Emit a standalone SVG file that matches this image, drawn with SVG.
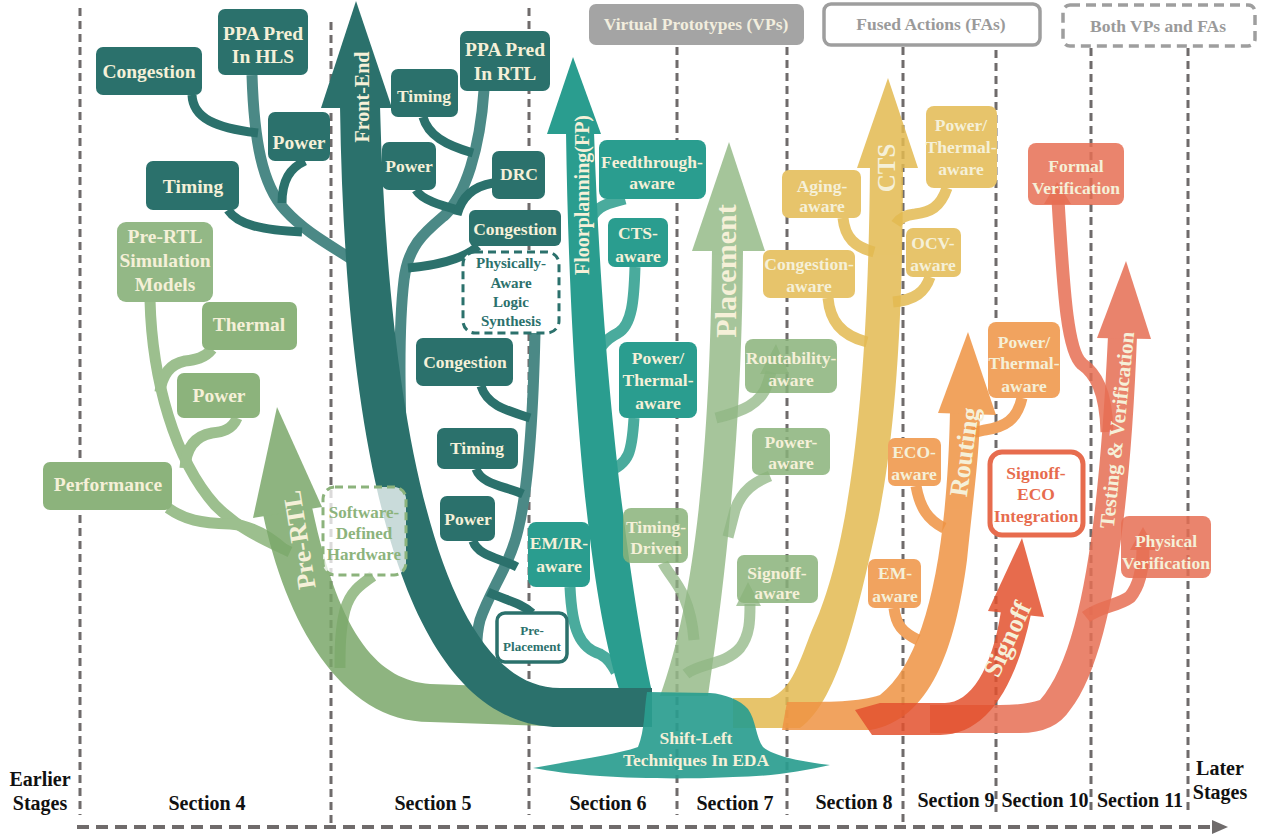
<svg xmlns="http://www.w3.org/2000/svg" width="1265" height="834" viewBox="0 0 1265 834">
<style>
text{font-family:"Liberation Serif","Times New Roman",serif;font-weight:bold;text-anchor:middle}
.c{fill:#f5f0d8}
.f19{font-size:19.5px}
.f17{font-size:17.5px}
.dk{fill:#2b716c}
.tl{fill:#2a9d8f}
.gr{fill:#8cb37c}
.pb{fill:#89b37a;fill-opacity:.85}
.ye{fill:#e7c46b}
.or{fill:#f1a35f}
.sa{fill:#e66e53;fill-opacity:.85}
.tr{opacity:.85}
.br{fill:none}
.bdk{stroke:#2b716c;stroke-width:9}
.bst{stroke:#4b8986;stroke-width:11}
.btl{stroke:#4aab9d;stroke-width:11}
.bgr{stroke:#9cbf8e;stroke-width:11}
.bpl{stroke:#8fb583;stroke-width:11;opacity:.75}
.bye{stroke:#e7c46b;stroke-width:11}
.bor{stroke:#f1a35f;stroke-width:11}
.bsa{stroke:#e66e53;stroke-width:13;opacity:.85}
.grid{fill:none;stroke:#6f6b6b;stroke-width:3;stroke-dasharray:8 5}
.sec{font-size:20px;fill:#111}
</style>
<rect width="1265" height="834" fill="#fff"/>

<g id="headers">
<g id="hdr-vp"><rect x="589" y="4" width="215" height="41" rx="7" fill="#a4a4a4"/><text x="696" y="30" font-size="17.5" fill="#f2eede">Virtual Prototypes (VPs)</text></g>
<g id="hdr-fa"><rect x="824" y="4" width="216" height="41" rx="7" fill="#fff" stroke="#9e9e9e" stroke-width="3.5"/><text x="931" y="30" font-size="17.5" fill="#9a9a9a">Fused Actions (FAs)</text></g>
<g id="hdr-both"><rect x="1063" y="5" width="192" height="41" rx="7" fill="#fff" stroke="#9e9e9e" stroke-width="3.5" stroke-dasharray="10 6"/><text x="1158" y="32" font-size="17.5" fill="#9a9a9a">Both VPs and FAs</text></g>
</g>

<g id="grid">
<path class="grid" d="M80,8 V815 M331,22 V826 M529,8 V815 M677,47 V815 M787,47 V815 M903,47 V822 M996,50 V815 M1091,48 V815 M1188,48 V815"/>
<path d="M77,827 H1212" fill="none" stroke="#6f6b6b" stroke-width="4" stroke-dasharray="12 7"/>
<polygon points="1212,820 1228,827 1212,834" fill="#6f6b6b"/>
</g>

<g id="connectors">
<!-- left dark cluster -->
<path class="br bst" d="M252,75 C254,140 262,185 285,210 C305,232 330,245 356,262"/>
<path class="br bdk" d="M192,95 C193,118 215,128 258,133"/>
<path class="br bdk" d="M305,161 C290,168 282,180 282,203"/>
<path class="br bdk" d="M228,210 C238,225 262,230 302,232"/>
<!-- section 5 -->
<path class="br bst" d="M484,90 C480,150 465,195 445,215 C425,232 408,245 404,280 C398,330 400,400 402,470"/>
<path class="br bdk" d="M423,117 C428,135 445,145 473,153"/>
<path class="br bdk" d="M416,190 C422,200 440,205 458,210"/>
<path class="br bdk" d="M493,183 C475,186 462,195 457,215"/>
<path class="br bdk" d="M478,246 C465,258 440,265 408,268"/>
<path class="br bst" d="M535,333 C533,420 528,490 518,530 C510,565 490,590 480,620 C476,635 476,650 478,668"/>
<path class="br bdk" d="M481,386 C487,405 505,410 530,418"/>
<path class="br bdk" d="M476,469 C482,485 505,486 523,494"/>
<path class="br bdk" d="M473,541 C478,556 500,558 517,567"/>
<path class="br bdk" stroke-width="8" d="M532,613 C522,603 505,600 488,592"/>
<!-- green cluster -->
<path class="br bgr" d="M150,300 C152,380 175,460 215,505 C240,530 265,540 290,552"/>
<path class="br bgr" d="M168,508 C185,520 200,523 230,524 C250,525 268,535 285,550"/>
<path class="br bgr" stroke="#8cb37c" d="M212,349 C205,358 195,360 185,361 C170,364 162,375 160,392"/>
<path class="br bgr" stroke="#8cb37c" d="M237,418 C232,430 222,432 212,433 C195,436 186,448 185,468"/>
<path class="br bgr" d="M373,576 C360,585 350,592 345,610 C340,630 340,650 340,668"/>
<!-- floorplanning -->
<path class="br btl" d="M625,199 C610,203 592,205 588,228"/>
<path class="br btl" d="M635,267 C634,300 632,325 618,333 C604,340 597,350 596,362"/>
<path class="br btl" d="M634,418 C632,450 630,465 606,472"/>
<path class="br btl" d="M570,587 C572,630 580,648 600,654 C608,658 612,665 616,672"/>
<!-- CTS -->
<path class="br bye" d="M843,218 C845,238 855,247 874,252"/>
<path class="br bye" d="M828,298 C830,320 840,335 867,342"/>
<path class="br bye" d="M947,188 C940,208 930,212 915,214 C905,215 900,218 896,224"/>
<path class="br bye" d="M930,277 C925,292 915,300 893,302"/>
<!-- routing -->
<path class="br bor" d="M1022,398 C1017,420 1005,427 985,430 L972,433"/>
<path class="br bor" d="M916,486 C920,508 928,520 944,528"/>
<path class="br bor" d="M894,608 C896,625 902,632 918,640"/>
</g>

<g id="trunk-pre-rtl" class="tr" fill="#7ba86a">
<path d="M263,514 C285,620 340,722 430,722 L548,726 L548,688 L430,684 C380,680 340,640 312,507 Z"/>
<polygon points="277,407 322,507 253,518"/>
</g>
<g id="trunk-floorplanning" fill="#2a9d8f">
<path d="M566,132 C570,400 590,600 620,692 L652,692 C632,600 603,400 594,132 Z"/>
<polygon points="573,57 601,134 547,134"/>
</g>
<g id="trunk-front-end" fill="#2b716c">
<path d="M340,106 C345,450 400,727 560,727 L652,727 L652,688 L560,688 C440,688 388,420 380,106 Z"/>
<polygon points="356,1 392,108 321,108"/>
</g>
<g id="trunk-placement" class="tr" fill="#96bb89">
<path d="M712,248 C710,450 695,600 660,696 L708,696 C722,600 742,450 743,248 Z"/>
<polygon points="729,142 765,251 692,251"/>
</g>
<g id="placement-branches">
<path class="br bpl" d="M716,418 C740,412 762,405 768,382 L771,372"/>
<polygon fill="#8fb583" opacity=".75" points="776,344 789,374 760,374"/>
<path class="br bpl" d="M770,476 C755,482 742,490 735,510 L728,537"/>
<path class="br bpl" d="M663,563 C670,578 690,590 694,640"/>
<path class="br bpl" d="M686,674 C700,663 725,665 740,648 C750,635 750,620 750,604"/>
<polygon fill="#8fb583" opacity=".75" points="748,582 761,606 736,606"/>
</g>
<g id="trunk-cts" class="tr" fill="#e3ba51">
<path d="M870,165 C868,420 845,560 812,630 C800,660 792,690 770,698 L733,698 L733,728 L800,728 C840,700 860,600 878,520 C892,450 903,350 903,165 Z"/>
<polygon points="888,78 918,168 857,168"/>
</g>
<g id="trunk-routing" class="tr" fill="#ef9343">
<path d="M950,411 C947,560 925,660 880,695 C860,702 830,702 787,702 L782,730 L870,730 C930,720 955,650 967,560 C973,500 980,450 980,411 Z"/>
<polygon points="968,332 996,415 938,413"/>
</g>
<g id="trunk-testing" class="tr" fill="#e66e53">
<path d="M930,705 L1000,705 Q1025,705 1040,700 C1085,650 1100,500 1108,336 L1137,336 C1130,520 1110,660 1070,710 Q1055,733 1020,733 L930,733 Z"/>
<polygon points="1126,261 1151,339 1097,338"/>
</g>
<g id="testing-branches">
<path class="br bsa" d="M1107,432 C1106,390 1095,373 1082,364 C1068,352 1064,300 1058,200"/>
<polygon fill="#e66e53" opacity=".85" points="1057,182 1071,204 1044,204"/>
<path class="br bsa" d="M1086,617 C1100,606 1118,606 1130,597 C1140,585 1143,565 1143,548"/>
<polygon fill="#e66e53" opacity=".85" points="1143,527 1156,550 1130,550"/>
</g>
<g id="trunk-signoff" class="tr" fill="#e3522f">
<path d="M880,703 L945,703 C970,703 992,670 1001,611 L1031,614 C1015,690 985,735 940,735 L872,735 L855,710 Z"/>
<polygon points="1022,538 1044,617 988,611"/>
</g>

<g id="base">
<path fill="#2a9d8f" fill-opacity=".92" d="M647,692 L710,693 C725,694 740,700 748,709 C756,720 756,738 763,747 C775,757 805,762 830,765 C800,772 765,777 733,777 C700,779 640,779 600,776 C570,774 550,771 533,768 C575,760 615,755 638,747 C645,730 644,710 647,692 Z"/>
<text class="c f17" x="696" y="744">Shift-Left</text>
<text class="c f17" x="696" y="766">Techniques In EDA</text>
</g>

<g id="trunk-labels" class="c">
<text transform="translate(362,97) rotate(-90)" y="7" font-size="20">Front-End</text>
<text transform="translate(299,540) rotate(-99)" y="9" font-size="26">Pre-RTL</text>
<text transform="translate(582,195) rotate(-90)" y="7" font-size="20">Floorplanning(FP)</text>
<text transform="translate(726,271) rotate(-90)" y="10" font-size="30">Placement</text>
<text transform="translate(887,168) rotate(-90)" y="8" font-size="25">CTS</text>
<text transform="translate(964,452) rotate(-82)" y="9" font-size="26">Routing</text>
<text transform="translate(1007,639) rotate(-65)" y="9" font-size="26">Signoff</text>
<text transform="translate(1117,430) rotate(-84)" y="7" font-size="21">Testing &amp; Verification</text>
</g>

<g id="n-congestion-hls"><rect class="dk" x="96" y="47" width="106" height="48" rx="7"/><text class="c f19" x="149" y="78">Congestion</text></g>
<g id="n-ppa-hls"><rect class="dk" x="218" y="9" width="90" height="66" rx="7"/><text class="c f19"><tspan x="263" y="39.5">PPA Pred</tspan><tspan x="263" y="63">In HLS</tspan></text></g>
<g id="n-power-hls"><rect class="dk" x="268" y="112" width="62" height="49" rx="7"/><text class="c f19" x="299" y="149">Power</text></g>
<g id="n-timing-hls"><rect class="dk" x="146" y="161" width="93" height="49" rx="7"/><text class="c f19" x="193" y="193">Timing</text></g>

<g id="n-timing-rtl"><rect class="dk" x="391" y="69" width="67" height="48" rx="7"/><text class="c f17" x="424" y="102">Timing</text></g>
<g id="n-ppa-rtl"><rect class="dk" x="460" y="31" width="90" height="60" rx="7"/><text class="c f19"><tspan x="505" y="56">PPA Pred</tspan><tspan x="505" y="80">In RTL</tspan></text></g>
<g id="n-power-rtl"><rect class="dk" x="382" y="142" width="54" height="48" rx="7"/><text class="c f17" x="409" y="172">Power</text></g>
<g id="n-drc"><rect class="dk" x="492" y="151" width="53" height="48" rx="7"/><text class="c f17" x="519" y="180">DRC</text></g>
<g id="n-congestion-rtl"><rect class="dk" x="469" y="210" width="92" height="36" rx="6"/><text class="c f17" x="515" y="235">Congestion</text></g>
<g id="n-pals"><rect x="463" y="252" width="96" height="81" rx="12" fill="#fff" stroke="#2b716c" stroke-width="3" stroke-dasharray="8 5"/><text font-size="15" fill="#2b716c"><tspan x="511" y="268">Physically-</tspan><tspan x="511" y="288">Aware</tspan><tspan x="511" y="307">Logic</tspan><tspan x="511" y="326">Synthesis</tspan></text></g>
<g id="n-congestion-pals"><rect class="dk" x="416" y="338" width="97" height="48" rx="7"/><text class="c f17" x="465" y="368">Congestion</text></g>
<g id="n-timing-pals"><rect class="dk" x="437" y="428" width="81" height="41" rx="7"/><text class="c f17" x="477" y="454">Timing</text></g>
<g id="n-power-pals"><rect class="dk" x="440" y="496" width="55" height="45" rx="7"/><text class="c f17" x="468" y="525">Power</text></g>
<g id="n-preplacement"><rect x="497" y="613" width="70" height="49" rx="8" fill="#fff" stroke="#2b716c" stroke-width="3.5"/><text font-size="13" fill="#2b716c"><tspan x="532" y="635">Pre-</tspan><tspan x="532" y="651">Placement</tspan></text></g>

<g id="n-prertl-sim"><rect x="117" y="222" width="96" height="80" rx="9" fill="#93b886"/><text class="c f19"><tspan x="165" y="243">Pre-RTL</tspan><tspan x="165" y="267">Simulation</tspan><tspan x="165" y="291">Models</tspan></text></g>
<g id="n-thermal"><rect class="gr" x="202" y="302" width="95" height="48" rx="7"/><text class="c f19" x="249" y="331">Thermal</text></g>
<g id="n-power-prertl"><rect class="gr" x="177" y="373" width="83" height="45" rx="7"/><text class="c f19" x="219" y="402">Power</text></g>
<g id="n-performance"><rect class="gr" x="43" y="462" width="129" height="48" rx="7"/><text class="c f19" x="108" y="491">Performance</text></g>
<g id="n-sdh"><rect x="323" y="487" width="83" height="88" rx="12" fill="#fff" fill-opacity=".75" stroke="#8cb37c" stroke-width="3" stroke-dasharray="8 5"/><text font-size="17" fill="#8cb37c"><tspan x="364" y="518">Software-</tspan><tspan x="364" y="539">Defined</tspan><tspan x="364" y="560">Hardware</tspan></text></g>

<g id="n-feedthrough"><rect class="tl" x="599" y="140" width="107" height="59" rx="8"/><text class="c f17"><tspan x="652" y="168">Feedthrough-</tspan><tspan x="652" y="189">aware</tspan></text></g>
<g id="n-cts-aware"><rect class="tl" x="608" y="218" width="60" height="49" rx="7"/><text class="c f17"><tspan x="638" y="239">CTS-</tspan><tspan x="638" y="262">aware</tspan></text></g>
<g id="n-pt-fp"><rect class="tl" x="619" y="342" width="78" height="76" rx="8"/><text class="c f17"><tspan x="658" y="364">Power/</tspan><tspan x="658" y="386">Thermal-</tspan><tspan x="658" y="409">aware</tspan></text></g>
<g id="n-emir"><rect class="tl" x="528" y="522" width="62" height="65" rx="8"/><text class="c f17"><tspan x="559" y="549">EM/IR-</tspan><tspan x="559" y="572">aware</tspan></text></g>

<g id="n-routability"><rect class="pb" x="745" y="339" width="92" height="54" rx="8"/><text class="c f17"><tspan x="791" y="364">Routability-</tspan><tspan x="791" y="386">aware</tspan></text></g>
<g id="n-power-aware"><rect class="pb" x="752" y="428" width="78" height="47" rx="7"/><text class="c f17"><tspan x="791" y="448">Power-</tspan><tspan x="791" y="469">aware</tspan></text></g>
<g id="n-timing-driven"><rect class="pb" x="623" y="508" width="65" height="55" rx="8"/><text class="c f17"><tspan x="656" y="533">Timing-</tspan><tspan x="656" y="554">Driven</tspan></text></g>
<g id="n-signoff-aware"><rect class="pb" x="737" y="555" width="81" height="48" rx="7"/><text class="c f17"><tspan x="777" y="579">Signoff-</tspan><tspan x="777" y="599">aware</tspan></text></g>

<g id="n-aging"><rect class="ye" x="782" y="170" width="79" height="48" rx="7"/><text class="c f17"><tspan x="822" y="192">Aging-</tspan><tspan x="822" y="212">aware</tspan></text></g>
<g id="n-congestion-aware"><rect class="ye" x="763" y="250" width="92" height="48" rx="7"/><text class="c f17"><tspan x="809" y="270">Congestion-</tspan><tspan x="809" y="292">aware</tspan></text></g>
<g id="n-pt-cts"><rect class="ye" x="926" y="106" width="71" height="82" rx="8"/><text class="c f17"><tspan x="961" y="131">Power/</tspan><tspan x="961" y="153">Thermal-</tspan><tspan x="961" y="175">aware</tspan></text></g>
<g id="n-ocv"><rect class="ye" x="906" y="228" width="55" height="49" rx="7"/><text class="c f17"><tspan x="933" y="249">OCV-</tspan><tspan x="933" y="271">aware</tspan></text></g>

<g id="n-pt-routing"><rect class="or" x="988" y="322" width="72" height="76" rx="8"/><text class="c f17"><tspan x="1024" y="348">Power/</tspan><tspan x="1024" y="369">Thermal-</tspan><tspan x="1024" y="392">aware</tspan></text></g>
<g id="n-eco"><rect class="or" x="888" y="438" width="53" height="48" rx="7"/><text class="c f17"><tspan x="914" y="458">ECO-</tspan><tspan x="914" y="480">aware</tspan></text></g>
<g id="n-em"><rect class="or" x="868" y="559" width="53" height="49" rx="7"/><text class="c f17"><tspan x="895" y="579">EM-</tspan><tspan x="895" y="602">aware</tspan></text></g>

<g id="n-signoff-eco"><rect x="990" y="452" width="93" height="83" rx="12" fill="#fff" stroke="#e76c4e" stroke-width="5"/><text class="f17" fill="#e76c4e"><tspan x="1036" y="479">Signoff-</tspan><tspan x="1036" y="500">ECO</tspan><tspan x="1036" y="522">Integration</tspan></text></g>

<g id="n-formal"><rect class="sa" x="1028" y="143" width="96" height="62" rx="8"/><text class="c f17"><tspan x="1076" y="172">Formal</tspan><tspan x="1076" y="194">Verification</tspan></text></g>
<g id="n-physical"><rect class="sa" x="1121" y="516" width="90" height="62" rx="8"/><text class="c f17"><tspan x="1166" y="547">Physical</tspan><tspan x="1166" y="569">Verification</tspan></text></g>

<g id="sections">
<text class="sec" x="40" y="786">Earlier</text>
<text class="sec" x="40" y="810">Stages</text>
<text class="sec" x="207" y="810">Section 4</text>
<text class="sec" x="433" y="810">Section 5</text>
<text class="sec" x="608" y="810">Section 6</text>
<text class="sec" x="735" y="810">Section 7</text>
<text class="sec" x="854" y="809">Section 8</text>
<text class="sec" x="956" y="807">Section 9</text>
<text class="sec" x="1045" y="807">Section 10</text>
<text class="sec" x="1140" y="807">Section 11</text>
<text class="sec" x="1220" y="775">Later</text>
<text class="sec" x="1220" y="799">Stages</text>
</g>
</svg>
